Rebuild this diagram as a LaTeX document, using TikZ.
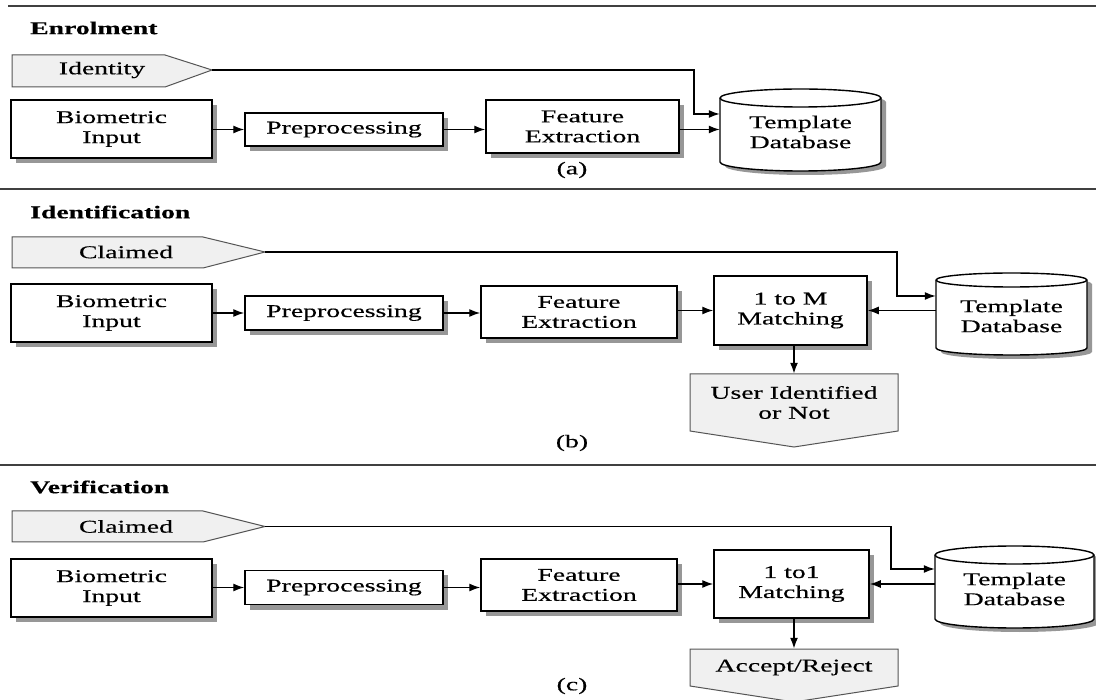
\documentclass[tikz,border=0pt]{standalone}
\usepackage{fontspec}
\setmainfont[FakeStretch=1.54,FakeBold=0.4]{Liberation Serif}
\usetikzlibrary{arrows.meta,shadows,calc}
\definecolor{pentfill}{HTML}{F0F0F0}
\definecolor{pentline}{HTML}{555555}
\definecolor{shadowc}{HTML}{8C8C8C}
\definecolor{sepc}{HTML}{404040}
\newcommand\cylpath[5]{(#1,#2+#5) -- (#1,#4-#5) arc[start angle=180,end angle=0,x radius={(#3-#1)/2},y radius=#5] -- (#3,#2+#5) arc[start angle=0,end angle=-180,x radius={(#3-#1)/2},y radius=#5] -- cycle}
\newcommand\cylfront[5]{(#1,#2+#5) arc[start angle=180,end angle=0,x radius={(#3-#1)/2},y radius=#5]}
\begin{document}
\begin{tikzpicture}[x=1pt,y=-1pt,
  every node/.style={font=\fontsize{18}{20}\selectfont, inner sep=0pt, align=center},
  box/.style={draw, fill=white, line width=1.5pt, drop shadow={shadow xshift=5pt, shadow yshift=-5pt, fill=shadowc, opacity=0.9}},
  arr/.style={line width=1.4pt, -{Latex[length=11pt,width=8pt]}},
  pent/.style={draw=pentline, fill=pentfill, line width=1pt},
  sep/.style={draw=sepc, line width=1.4pt},
  title/.style={anchor=west, font=\fontsize{18}{20}\selectfont\bfseries},
  cyl/.style={draw, fill=white, line width=1.4pt},
  cylshadow/.style={fill=shadowc, opacity=0.9}]
\useasboundingbox (0,0) rectangle (1096,700);
\fill[white] (0,0) rectangle (1096,700);

% separators
\draw[sep] (8,6) -- (1096,6);
\draw[sep] (0,189) -- (1096,189);
\draw[sep] (0,465) -- (1096,465);

% ================= (a) Enrolment =================
\node[title] (ta) at (30,28) {Enrolment};
\draw[pent] (12,55) -- (165,55) -- (212,70) -- (165,87) -- (12,87) -- cycle;
\coordinate (idtip) at (212,70);
\node (ida) at (102,70) {Identity};

\node[box, minimum width=201pt, minimum height=58pt] (bioa) at (111.5,129) {Biometric\\Input};
\node[box, minimum width=198pt, minimum height=33pt] (prea) at (344,129.5) {Preprocessing};
\node[box, minimum width=193pt, minimum height=53pt] (fea) at (582.5,126.5) {Feature\\Extraction};

\fill[cylshadow, shift={(5,4)}] \cylpath{720}{89}{881}{171}{9};
\draw[cyl] \cylpath{720}{89}{881}{171}{9};
\draw[line width=1.4pt] \cylfront{720}{89}{881}{171}{9};
\node[minimum width=161pt, minimum height=82pt] (dba) at (800.5,132) {Template\\Database};

\node (la) at (572,170) {(a)};

\draw[arr] (bioa.east |- prea.west) -- (prea.west);
\draw[arr] (prea.east) -- (prea.east -| fea.west);
\draw[arr] (prea.east -| fea.east) -- (prea.east -| dba.west);
\coordinate (ja) at (694,114);
\draw[arr] (idtip) -| (ja) -- (ja -| dba.west);

% ================= (b) Identification =================
\node[title] (tb) at (30,212) {Identification};
\draw[pent] (12,237) -- (203,237) -- (265,252) -- (203,268) -- (12,268) -- cycle;
\coordinate (cltipb) at (265,252);
\node (clb) at (126,252) {Claimed};

\node[box, minimum width=201pt, minimum height=58pt] (biob) at (111.5,313) {Biometric\\Input};
\node[box, minimum width=198pt, minimum height=34pt] (preb) at (344,313) {Preprocessing};
\node[box, minimum width=196pt, minimum height=52pt] (feb) at (579,312) {Feature\\Extraction};
\node[box, minimum width=153pt, minimum height=69pt] (mb) at (790.5,310.5) {1 to M\\Matching};

\fill[cylshadow, shift={(5,4)}] \cylpath{936}{273}{1087}{355}{7};
\draw[cyl] \cylpath{936}{273}{1087}{355}{7};
\draw[line width=1.4pt] \cylfront{936}{273}{1087}{355}{7};
\node[minimum width=151pt, minimum height=82pt] (dbb) at (1011.5,316) {Template\\Database};

\draw[pent] (690,374) -- (898,374) -- (898,431) -- (794,447) -- (690,431) -- cycle;
\node[minimum width=208pt, minimum height=57pt] (outb) at (794,402.5) {User Identified\\or Not};

\node (lb) at (572,443) {(b)};

\draw[arr] (biob.east |- preb.west) -- (preb.west);
\draw[arr] (preb.east) -- (preb.east -| feb.west);
\draw[arr] (feb.east |- mb.west) -- (mb.west);
\draw[arr] (dbb.west |- mb.east) -- (mb.east);
\coordinate (jb) at (897,296);
\draw[arr] (cltipb) -| (jb) -- (jb -| dbb.west);
\draw[arr, line width=1.8pt] (mb.south -| outb.north) -- (outb.north);

% ================= (c) Verification =================
\node[title] (tc) at (30,487) {Verification};
\draw[pent] (12,511) -- (203,511) -- (265,526.5) -- (203,542) -- (12,542) -- cycle;
\coordinate (cltipc) at (265,526.5);
\node (clc) at (126,526.5) {Claimed};

\node[box, minimum width=201pt, minimum height=58pt] (bioc) at (111.5,588) {Biometric\\Input};
\node[box, minimum width=198pt, minimum height=34pt] (prec) at (344,587.5) {Preprocessing};
\node[box, minimum width=196pt, minimum height=52pt] (fec) at (579,585) {Feature\\Extraction};
\node[box, minimum width=155pt, minimum height=68pt] (mc) at (791.5,584) {1 to1\\Matching};

\fill[cylshadow, shift={(5,4)}] \cylpath{935}{546}{1094}{628}{9};
\draw[cyl] \cylpath{935}{546}{1094}{628}{9};
\draw[line width=1.4pt] \cylfront{935}{546}{1094}{628}{9};
\node[minimum width=159pt, minimum height=82pt] (dbc) at (1014.5,589) {Template\\Database};

\draw[pent] (690,649) -- (898,649) -- (898,686) -- (794,702) -- (690,686) -- cycle;
\node[minimum width=208pt, minimum height=37pt] (outc) at (794,667.5) {Accept/Reject};

\node (lc) at (572,686) {(c)};

\draw[arr] (bioc.east |- prec.west) -- (prec.west);
\draw[arr] (prec.east) -- (prec.east -| fec.west);
\draw[arr] (fec.east |- mc.west) -- (mc.west);
\draw[arr] (dbc.west |- mc.east) -- (mc.east);
\coordinate (jc) at (891,569);
\draw[arr] (cltipc) -| (jc) -- (jc -| dbc.west);
\draw[arr, line width=1.8pt] (mc.south -| outc.north) -- (outc.north);
\end{tikzpicture}
\end{document}
